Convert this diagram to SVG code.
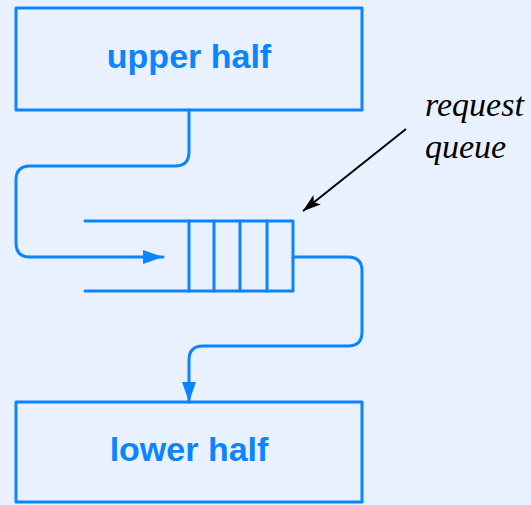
<svg xmlns="http://www.w3.org/2000/svg" width="531" height="505" viewBox="0 0 531 505">
<style>
.box{fill:none;stroke:#0a84ff;stroke-width:3;stroke-linejoin:round}
.ln{fill:none;stroke:#0a84ff;stroke-width:3;stroke-linecap:round;stroke-linejoin:round}
.lbl{font-family:"Liberation Sans",Arial,sans-serif;font-weight:bold;font-size:34px;fill:#0a84ff;text-anchor:middle}
.note{font-family:"Liberation Serif","Times New Roman",serif;font-style:italic;font-size:34px;fill:#000}
</style>
<defs>
<marker id="ab" viewBox="0 0 20 14" refX="20" refY="7" markerWidth="20" markerHeight="14" markerUnits="userSpaceOnUse" orient="auto">
<path d="M0,0 L20,7 L0,14 Z" fill="#0a84ff"/>
</marker>
<marker id="ak" viewBox="0 0 18 12" refX="18" refY="6" markerWidth="18" markerHeight="12" markerUnits="userSpaceOnUse" orient="auto">
<path d="M0,0 L18,6 L0,12 L4,6 Z" fill="#000"/>
</marker>
</defs>
<rect width="531" height="505" fill="#e8f1fd"/>
<g id="upper">
<rect class="box" x="16" y="8" width="346" height="102"/>
<text class="lbl" x="189" y="68">upper half</text>
</g>
<g id="queue">
<path class="ln" d="M85,221 H293 V291 H85"/>
<path class="ln" d="M189,221 V291 M214,221 V291 M240,221 V291 M267,221 V291"/>
</g>
<g id="lower">
<rect class="box" x="16" y="402" width="346" height="100"/>
<text class="lbl" x="189" y="461">lower half</text>
</g>
<g id="note">
<text class="note" x="425" y="116">request</text>
<text class="note" x="425" y="158">queue</text>
</g>
<g id="connectors">
<path class="ln" d="M189,110 V152 Q189,166 175,166 H30 Q16,166 16,180 V243 Q16,257 30,257 H163" marker-end="url(#ab)"/>
<path class="ln" d="M293,257 H348 Q362,257 362,271 V332 Q362,346 348,346 H203 Q189,346 189,360 V402" marker-end="url(#ab)"/>
<path d="M406,129 L303,211" stroke="#000" stroke-width="2" fill="none" marker-end="url(#ak)"/>
</g>
</svg>
